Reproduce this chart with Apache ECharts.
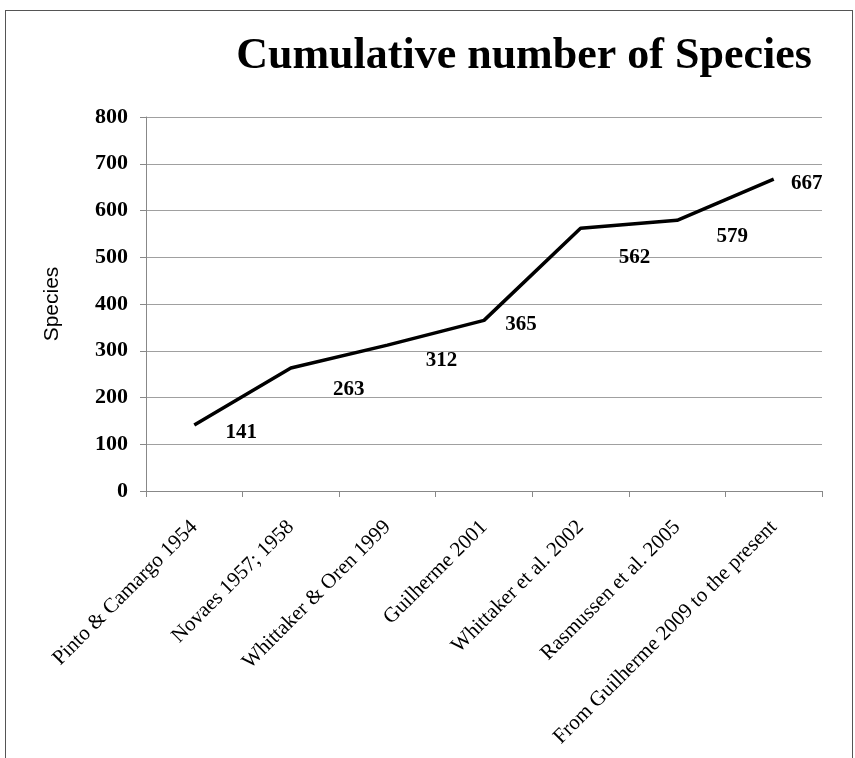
<!DOCTYPE html>
<html>
<head>
<meta charset="utf-8">
<script src="https://cdn.jsdelivr.net/npm/echarts@6/dist/echarts.min.js"></script>
<style>
html,body{margin:0;padding:0;background:#fff;}
#chart{width:855px;height:758px;position:absolute;left:0;top:0;}
#frame{position:absolute;left:5px;top:10px;width:848px;height:760px;border:1px solid #555;pointer-events:none;box-sizing:border-box;}
</style>
</head>
<body>
<div id="chart"></div>
<div id="frame"></div>
<script>
const categories = ["Pinto & Camargo 1954","Novaes 1957; 1958","Whittaker & Oren 1999","Guilherme 2001","Whittaker et al. 2002","Rasmussen et al. 2005","From Guilherme 2009 to the present"];
const species = [141, 263, 312, 365, 562, 579, 667];
const yTicks = [0, 100, 200, 300, 400, 500, 600, 700, 800];
const labelOffsets = [[47,7],[58,22],[54,15],[37,4],[54,29],[55,16],[33,4]];

const chart = echarts.init(document.getElementById('chart'));
const serif = '"Liberation Serif","Times New Roman",serif';
chart.setOption({
  backgroundColor: '#fff',
  animation: false,
  title: {
    text: 'Cumulative number of Species',
    left: 519, top: 30, textAlign: 'center',
    textStyle: {fontFamily: serif, fontWeight: 'bold', fontSize: 44, color: '#000'}
  },
  grid: {left: 146, right: 33, top: 117, bottom: 267},
  xAxis: {
    type: 'category', data: categories, boundaryGap: true,
    axisLine: {lineStyle: {color: '#888', width: 1}},
    axisTick: {show: true, length: 6, alignWithLabel: false, lineStyle: {color: '#888'}},
    axisLabel: {rotate: 45, interval: 0, margin: 33, fontFamily: serif, fontSize: 21, color: '#000'}
  },
  yAxis: {
    type: 'value', min: yTicks[0], max: yTicks[yTicks.length-1], interval: 100,
    name: 'Species', nameLocation: 'middle', nameGap: 83, nameRotate: 90,
    nameTextStyle: {fontFamily: '"Liberation Sans",Arial,sans-serif', fontSize: 21, color: '#000'},
    axisLine: {show: true, lineStyle: {color: '#888', width: 1}},
    axisTick: {show: true, length: 6, lineStyle: {color: '#888'}},
    splitLine: {lineStyle: {color: '#a0a0a0', width: 1}},
    axisLabel: {margin: 18, fontFamily: serif, fontWeight: 'bold', fontSize: 22, color: '#000'}
  },
  series: [{
    type: 'line',
    data: species.map((v, i) => ({
      value: v,
      label: {show: true, offset: labelOffsets[i]}
    })),
    symbol: 'circle',
    symbolSize: 1,
    showSymbol: true,
    itemStyle: {color: 'rgba(0,0,0,0)'},
    lineStyle: {color: '#000', width: 3.5},
    label: {show: true, position: 'inside', fontFamily: serif, fontWeight: 'bold', fontSize: 21, color: '#000'}
  }]
});
</script>
</body>
</html>
